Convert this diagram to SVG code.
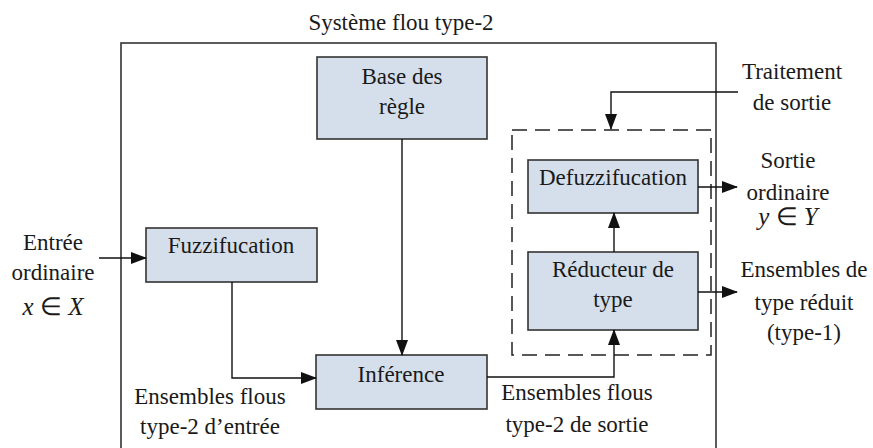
<svg xmlns="http://www.w3.org/2000/svg" width="873" height="448" viewBox="0 0 873 448">
<defs>
<marker id="ah" markerUnits="userSpaceOnUse" markerWidth="16" markerHeight="12" refX="15" refY="6" orient="auto">
<path d="M0,0 L16,6 L0,12 Z" fill="#111"/>
</marker>
</defs>
<rect width="873" height="448" fill="#fff"/>
<rect x="121" y="43" width="595" height="420" fill="none" stroke="#333" stroke-width="1.6"/>
<text font-family="Liberation Serif" font-size="23" text-anchor="middle" fill="#1a1a1a" x="401" y="30">Système flou type-2</text>
<rect x="512" y="130" width="199" height="225" fill="none" stroke="#222" stroke-width="1.5" stroke-dasharray="15,8"/>
<g id="base">
<rect fill="#d5dfeb" stroke="#333" stroke-width="1.6" x="317" y="57" width="170" height="82"/>
<text font-family="Liberation Serif" font-size="23" text-anchor="middle" fill="#1a1a1a" x="402" y="84">Base des</text>
<text font-family="Liberation Serif" font-size="23" text-anchor="middle" fill="#1a1a1a" x="402" y="114">règle</text>
</g>
<g id="fuzz">
<rect fill="#d5dfeb" stroke="#333" stroke-width="1.6" x="146" y="228" width="171" height="54"/>
<text font-family="Liberation Serif" font-size="23" text-anchor="middle" fill="#1a1a1a" x="231" y="253">Fuzzifucation</text>
</g>
<g id="inf">
<rect fill="#d5dfeb" stroke="#333" stroke-width="1.6" x="316" y="355" width="171" height="54"/>
<text font-family="Liberation Serif" font-size="23" text-anchor="middle" fill="#1a1a1a" x="401" y="382">Inférence</text>
</g>
<g id="defuzz">
<rect fill="#d5dfeb" stroke="#333" stroke-width="1.6" x="528" y="160" width="170" height="53"/>
<text font-family="Liberation Serif" font-size="23" text-anchor="middle" fill="#1a1a1a" x="613" y="185">Defuzzifucation</text>
</g>
<g id="red">
<rect fill="#d5dfeb" stroke="#333" stroke-width="1.6" x="528" y="252" width="170" height="78"/>
<text font-family="Liberation Serif" font-size="23" text-anchor="middle" fill="#1a1a1a" x="613" y="277">Réducteur de</text>
<text font-family="Liberation Serif" font-size="23" text-anchor="middle" fill="#1a1a1a" x="613" y="307">type</text>
</g>
<g id="connectors" fill="none" stroke="#111" stroke-width="1.4">
<path d="M99,258 H146" marker-end="url(#ah)"/>
<path d="M402,139 V355" marker-end="url(#ah)"/>
<path d="M232,282 V378 H316" marker-end="url(#ah)"/>
<path d="M487,377 H614 V330" marker-end="url(#ah)"/>
<path d="M614,252 V213" marker-end="url(#ah)"/>
<path d="M738,92 H611 V129" marker-end="url(#ah)"/>
<path d="M698,187 H737" marker-end="url(#ah)"/>
<path d="M698,292 H737" marker-end="url(#ah)"/>
</g>
<g id="labels">
<text font-family="Liberation Serif" font-size="23" text-anchor="middle" fill="#1a1a1a" x="53" y="250">Entrée</text>
<text font-family="Liberation Serif" font-size="23" text-anchor="middle" fill="#1a1a1a" x="53" y="280">ordinaire</text>
<text font-family="Liberation Serif" font-size="25" font-style="italic" text-anchor="middle" fill="#1a1a1a" x="53" y="315">x <tspan font-style="normal">∈</tspan> X</text>
<text font-family="Liberation Serif" font-size="23" text-anchor="middle" fill="#1a1a1a" x="210" y="404">Ensembles flous</text>
<text font-family="Liberation Serif" font-size="23" text-anchor="middle" fill="#1a1a1a" x="210" y="434">type-2 d’entrée</text>
<text font-family="Liberation Serif" font-size="23" text-anchor="middle" fill="#1a1a1a" x="577" y="400">Ensembles flous</text>
<text font-family="Liberation Serif" font-size="23" text-anchor="middle" fill="#1a1a1a" x="577" y="432">type-2 de sortie</text>
<text font-family="Liberation Serif" font-size="23" text-anchor="middle" fill="#1a1a1a" x="792" y="79">Traitement</text>
<text font-family="Liberation Serif" font-size="23" text-anchor="middle" fill="#1a1a1a" x="792" y="110">de sortie</text>
<text font-family="Liberation Serif" font-size="23" text-anchor="middle" fill="#1a1a1a" x="788" y="168">Sortie</text>
<text font-family="Liberation Serif" font-size="23" text-anchor="middle" fill="#1a1a1a" x="788" y="200">ordinaire</text>
<text font-family="Liberation Serif" font-size="25" font-style="italic" text-anchor="middle" fill="#1a1a1a" x="788" y="225">y <tspan font-style="normal">∈</tspan> Y</text>
<text font-family="Liberation Serif" font-size="23" text-anchor="middle" fill="#1a1a1a" x="804" y="277">Ensembles de</text>
<text font-family="Liberation Serif" font-size="23" text-anchor="middle" fill="#1a1a1a" x="804" y="310">type réduit</text>
<text font-family="Liberation Serif" font-size="23" text-anchor="middle" fill="#1a1a1a" x="804" y="340">(type-1)</text>
</g>
</svg>
